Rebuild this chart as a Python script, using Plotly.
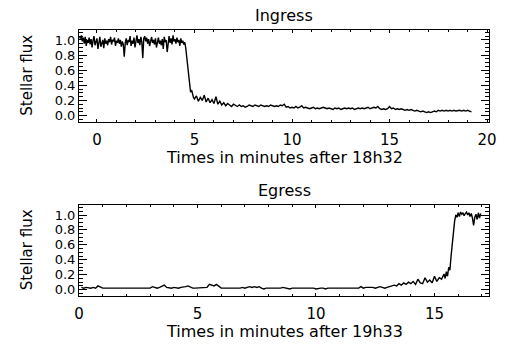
import numpy as np
import plotly.graph_objects as go

# ---------------- data ----------------
# Ingress, part A: sampled every 0.05 min starting at -0.90
ingress_a_start = -0.90
ingress_a_step = 0.05
ingress_a_flux = [
    1.05, 1.02, 1.06, 0.98, 1.03, 0.95, 1.04, 0.92, 1.00, 0.96,
    1.03, 0.94, 1.01, 0.90, 0.99, 1.05, 0.93, 0.97, 1.02, 0.88,
    0.98, 1.04, 0.91, 0.96, 1.00, 0.89, 1.02, 0.95, 0.99, 0.93,
    1.01, 0.97, 1.04, 0.94, 1.00, 0.98, 1.03, 0.92, 0.99, 0.96,
    1.02, 0.95, 1.00, 0.91, 0.98, 0.94, 0.78, 0.96, 1.02, 0.93,
    1.00, 0.97, 1.05, 0.92, 0.99, 0.95, 1.03, 0.90, 0.98, 1.06,
    0.96, 1.01, 0.93, 1.04, 0.97, 0.76, 1.02, 1.05, 0.98, 1.03,
    0.95, 1.01, 0.92, 0.99, 1.04, 0.96, 1.00, 0.94, 1.02, 0.90,
    0.98, 1.03, 0.95, 0.99, 0.93, 1.01, 0.88, 1.04, 0.97, 1.00,
    0.84, 0.99, 1.05, 0.96, 1.02, 0.94, 1.06, 0.98, 1.01, 0.95,
    1.03, 0.97, 1.00, 0.92, 1.02, 0.96, 0.99, 0.94, 0.97,
    0.90, 0.78, 0.62, 0.48, 0.36, 0.31, 0.34, 0.27, 0.24,
]
# Ingress, part B: sampled every 0.1 min starting at 5.0
ingress_b_start = 5.0
ingress_b_step = 0.1
ingress_b_flux = [
    0.22, 0.26, 0.19, 0.24, 0.20, 0.27, 0.18, 0.23, 0.17, 0.21,
    0.16, 0.25, 0.15, 0.19, 0.14, 0.17, 0.13, 0.16, 0.14, 0.12,
    0.15, 0.13, 0.12, 0.14, 0.12, 0.13, 0.11, 0.12, 0.14, 0.13,
    0.12, 0.14, 0.13, 0.12, 0.14, 0.13, 0.12, 0.13, 0.12, 0.14,
    0.13, 0.12, 0.13, 0.12, 0.14, 0.13, 0.15, 0.11, 0.12, 0.10,
    0.11, 0.10, 0.12, 0.10, 0.11, 0.13, 0.10, 0.11, 0.10, 0.09,
    0.10, 0.11, 0.09, 0.10, 0.09, 0.10, 0.11, 0.10, 0.09, 0.10,
    0.09, 0.08, 0.10, 0.09, 0.10, 0.08, 0.09, 0.10, 0.09, 0.10,
    0.09, 0.10, 0.08, 0.09, 0.10, 0.09, 0.10, 0.09, 0.10, 0.11,
    0.09, 0.10, 0.11, 0.10, 0.12, 0.09, 0.08, 0.09, 0.08, 0.09,
    0.12, 0.09, 0.10, 0.08, 0.09, 0.08, 0.09, 0.08, 0.07, 0.08,
    0.07, 0.08, 0.07, 0.06, 0.07, 0.06, 0.05, 0.06, 0.05, 0.04,
    0.05, 0.04, 0.05, 0.06, 0.05, 0.07, 0.06, 0.07, 0.06, 0.07,
    0.06, 0.07, 0.06, 0.07, 0.06, 0.07, 0.07, 0.06, 0.07, 0.06,
    0.07, 0.06, 0.05,
]
# Egress, part A: sampled every 0.1 min starting at 0.1
egress_a_start = 0.1
egress_a_step = 0.1
egress_a_flux = [
    0.03, 0.02, 0.03, 0.02, 0.02, 0.03, 0.02, 0.05, 0.03, 0.02,
    0.02, 0.02, 0.01, 0.02, 0.02, 0.01, 0.02, 0.01, 0.02, 0.02,
    0.01, 0.02, 0.02, 0.01, 0.02, 0.02, 0.01, 0.02, 0.02, 0.02,
    0.04, 0.03, 0.02, 0.03, 0.05, 0.06, 0.03, 0.02, 0.02, 0.03,
    0.02, 0.02, 0.03, 0.03, 0.04, 0.05, 0.03, 0.02, 0.02, 0.02,
    0.02, 0.03, 0.02, 0.03, 0.07, 0.06, 0.05, 0.07, 0.04, 0.02,
    0.02, 0.02, 0.01, 0.02, 0.02, 0.01, 0.02, 0.02, 0.03, 0.02,
    0.03, 0.04, 0.03, 0.04, 0.03, 0.04, 0.02, 0.01, 0.02, 0.02,
    0.01, 0.02, 0.02, 0.01, 0.02, 0.03, 0.02, 0.02, 0.01, 0.02,
    0.02, 0.02, 0.03, 0.02, 0.02, 0.03, 0.02, 0.02, 0.02, 0.01,
    0.02, 0.02, 0.02, 0.01, 0.02, 0.02, 0.01, 0.02, 0.02, 0.02,
    0.02, 0.01, 0.02, 0.02, 0.01, 0.02, 0.01, 0.02, 0.04, 0.02,
    0.03, 0.03, 0.04, 0.03, 0.02, 0.03, 0.04, 0.03, 0.02, 0.03,
    0.04, 0.05, 0.06, 0.05, 0.08, 0.06, 0.09, 0.07, 0.10, 0.08,
    0.11, 0.07, 0.14, 0.09, 0.08, 0.16, 0.10, 0.13, 0.09, 0.18,
    0.11, 0.16, 0.14, 0.21,
]
# Egress, part B: sampled every 0.05 min starting at 15.45
egress_b_start = 15.45
egress_b_step = 0.05
egress_b_flux = [
    0.15, 0.24, 0.18, 0.30, 0.26, 0.45, 0.62, 0.78, 0.92, 1.00,
    0.97, 1.03, 0.98, 1.04, 1.01, 1.03, 0.99, 1.02, 1.04, 1.00,
    1.03, 0.98, 1.02, 0.96, 0.86, 0.97, 1.01, 0.94, 1.03, 0.96,
    1.02,
]

titles = ["Ingress", "Egress"]
xlabels = ["Times in minutes after 18h32", "Times in minutes after 19h33"]
ylabel = "Stellar flux"
yticks = [0.0, 0.2, 0.4, 0.6, 0.8, 1.0]
yticktext = ["0.0", "0.2", "0.4", "0.6", "0.8", "1.0"]


def times(start, step, vals):
    return start + step * np.arange(len(vals))


t_in = np.concatenate([times(ingress_a_start, ingress_a_step, ingress_a_flux),
                       times(ingress_b_start, ingress_b_step, ingress_b_flux)])
f_in = ingress_a_flux + ingress_b_flux
t_eg = np.concatenate([times(egress_a_start, egress_a_step, egress_a_flux),
                       times(egress_b_start, egress_b_step, egress_b_flux)])
f_eg = egress_a_flux + egress_b_flux

FONT = "DejaVu Sans"
W, H = 506, 344

fig = go.Figure()
fig.add_trace(go.Scatter(x=t_in, y=f_in, mode="lines", xaxis="x", yaxis="y",
                         line=dict(color="black", width=1.4), showlegend=False,
                         hoverinfo="skip"))
fig.add_trace(go.Scatter(x=t_eg, y=f_eg, mode="lines", xaxis="x2", yaxis="y2",
                         line=dict(color="black", width=1.4), showlegend=False,
                         hoverinfo="skip"))

xd = [79 / W, 489 / W]
top_dom = [1 - 122 / H, 1 - 29.5 / H]
bot_dom = [1 - 296 / H, 1 - 204.7 / H]

common_x = dict(showline=True, linecolor="black", linewidth=1, mirror="allticks",
                ticks="inside", ticklen=3, tickcolor="black", dtick=5, tick0=0,
                showgrid=False, zeroline=False, automargin=False,
                ticklabelstandoff=4,
                tickfont=dict(family=FONT, size=15, color="black"),
                minor=dict(dtick=1, ticks="inside", ticklen=2, tickcolor="black",
                           showgrid=False))
common_y = dict(showline=True, linecolor="black", linewidth=1, mirror="allticks",
                ticks="inside", ticklen=8, tickcolor="black",
                tickvals=yticks, ticktext=yticktext, automargin=False,
                showgrid=False, zeroline=False, range=[-0.085, 1.138],
                ticklabelstandoff=0,
                tickfont=dict(family=FONT, size=13, color="black"),
                minor=dict(dtick=0.05, tick0=0, ticks="inside", ticklen=4,
                           tickcolor="black", showgrid=False))

fig.update_layout(
    width=W, height=H,
    margin=dict(l=0, r=0, t=0, b=0, autoexpand=False),
    paper_bgcolor="white", plot_bgcolor="white",
    hovermode=False,
    font=dict(family=FONT, size=15, color="black"),
    xaxis=dict(common_x, domain=xd, anchor="y", range=[-0.92, 20.1]),
    yaxis=dict(common_y, domain=top_dom, anchor="x"),
    xaxis2=dict(common_x, domain=xd, anchor="y2", range=[0, 17.3]),
    yaxis2=dict(common_y, domain=bot_dom, anchor="x2"),
)

ann = []
for i, (ttl, xl, dom) in enumerate(zip(titles, xlabels, [top_dom, bot_dom])):
    ann.append(dict(text=ttl, x=(xd[0] + xd[1]) / 2, y=dom[1], xref="paper", yref="paper",
                    xanchor="center", yanchor="bottom", yshift=3, showarrow=False,
                    font=dict(family=FONT, size=16, color="black")))
    ann.append(dict(text=xl, x=(xd[0] + xd[1]) / 2, y=dom[0], xref="paper", yref="paper",
                    xanchor="center", yanchor="top", yshift=-24, showarrow=False,
                    font=dict(family=FONT, size=16, color="black")))
    ann.append(dict(text=ylabel, x=27 / W, y=(dom[0] + dom[1]) / 2, xref="paper", yref="paper",
                    xanchor="center", yanchor="middle", textangle=-90, showarrow=False,
                    font=dict(family=FONT, size=15, color="black")))
fig.update_layout(annotations=ann)

fig.write_html("out.html",
               config={"displayModeBar": False, "staticPlot": True},
               post_script="document.body.style.margin='0';document.body.style.padding='0';")
